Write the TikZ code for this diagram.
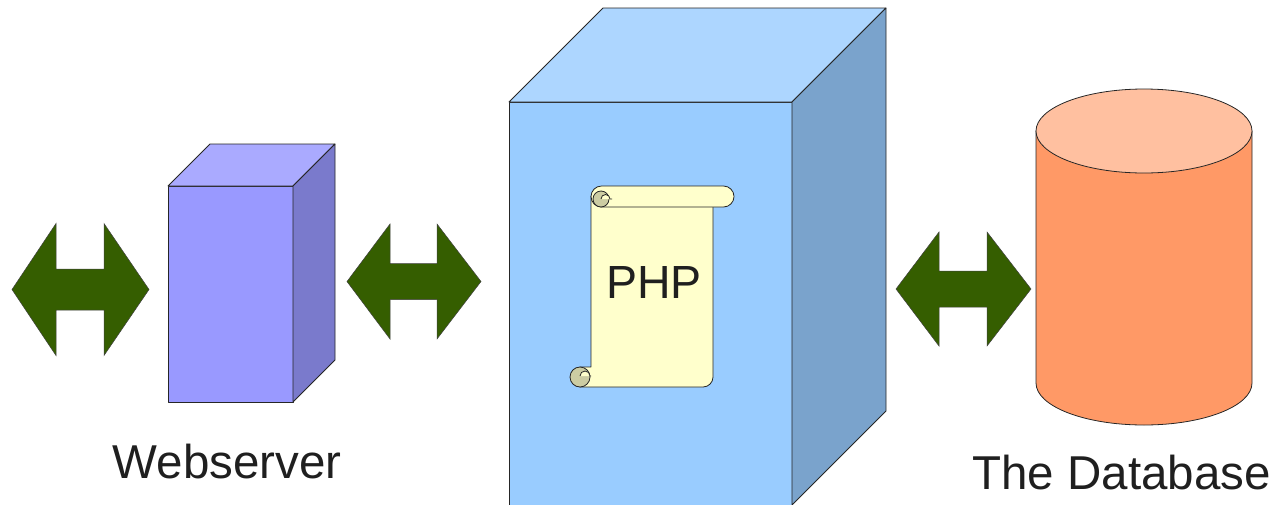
\documentclass[tikz,border=0pt]{standalone}
\usepackage{fontspec}
\setmainfont{Liberation Sans}
\definecolor{wsfront}{RGB}{153,153,255}
\definecolor{wstop}{RGB}{170,170,255}
\definecolor{wsside}{RGB}{122,122,204}
\definecolor{phpfront}{RGB}{153,204,255}
\definecolor{phptop}{RGB}{173,214,255}
\definecolor{phpside}{RGB}{122,163,204}
\definecolor{scrollfill}{RGB}{255,255,204}
\definecolor{scrollcurl}{RGB}{204,204,163}
\definecolor{dbbody}{RGB}{255,153,102}
\definecolor{dbtop}{RGB}{255,192,160}
\definecolor{arrowgreen}{RGB}{53,94,0}
\tikzset{
  outline/.style={draw=black!85,line width=0.8pt,line join=round},
  captext/.style={font=\fontsize{47.5}{56}\selectfont,text=black!88,inner sep=0pt,anchor=base}
}
\begin{document}
\begin{tikzpicture}[x=1pt,y=-1pt]
    \clip (0,0) rectangle (1279,504);
    % double arrows
    \foreach \xl/\xa/\xb/\xr/\yc/\hh/\sh in {12/56/104/149/289.5/66/20.5,347/390/437/481/281.5/57.5/18,896/939/987/1031/289/57/18}
    \draw[fill=arrowgreen,draw=black!75,line width=0.5pt,line join=miter]
      (\xl,\yc) -- (\xa,\yc-\hh) -- (\xa,\yc-\sh) -- (\xb,\yc-\sh) -- (\xb,\yc-\hh) -- (\xr,\yc)
      -- (\xb,\yc+\hh) -- (\xb,\yc+\sh) -- (\xa,\yc+\sh) -- (\xa,\yc+\hh) -- cycle;
    % webserver box
    \draw[outline,fill=wsfront] (168,186) rectangle (293,402);
    \draw[outline,fill=wstop] (168,186) -- (210,144) -- (335,144) -- (293,186) -- cycle;
    \draw[outline,fill=wsside] (293,186) -- (335,144) -- (335,360) -- (293,402) -- cycle;
    \node[captext] (web) at (227,478) {Webserver};
    % php box
    \draw[outline,fill=phpfront] (509,102) rectangle (792,520);
    \draw[outline,fill=phptop] (509,102) -- (603,8) -- (886,8) -- (792,102) -- cycle;
    \draw[outline,fill=phpside] (792,102) -- (886,8) -- (886,411) -- (792,505) -- cycle;
    % scroll
    \draw[outline,fill=scrollfill] (591,196) -- (591,367) -- (581,367)
      arc[start angle=270,end angle=90,radius=10] -- (703,387)
      arc[start angle=90,end angle=0,radius=10] -- (713,196) -- cycle;
    \draw[outline,fill=scrollcurl] (580,377) circle[radius=10];
    \draw[outline,fill=scrollfill] (580,376) arc[start angle=180,end angle=360,radius=5] -- (591,376);
    \draw[outline,fill=scrollfill,rounded corners=10.5pt] (591,186) rectangle (734,207);
    \draw[outline,fill=scrollcurl] (601,199) circle[radius=8];
    \draw[outline,fill=scrollfill] (601,199) arc[start angle=180,end angle=360,radius=4.5] -- (612,199);
    \node[captext,font=\fontsize{46.5}{56}\selectfont] (php) at (654,298) {PHP};
    % database
    \draw[outline,fill=dbbody] (1036,131) -- (1036,383)
      arc[start angle=180,end angle=0,x radius=108,y radius=42] -- (1252,131) -- cycle;
    \draw[outline,fill=dbtop] (1144,131) ellipse[x radius=108,y radius=42];
    \node[captext] (db) at (1121.5,489) {The Database};
\end{tikzpicture}
\end{document}
